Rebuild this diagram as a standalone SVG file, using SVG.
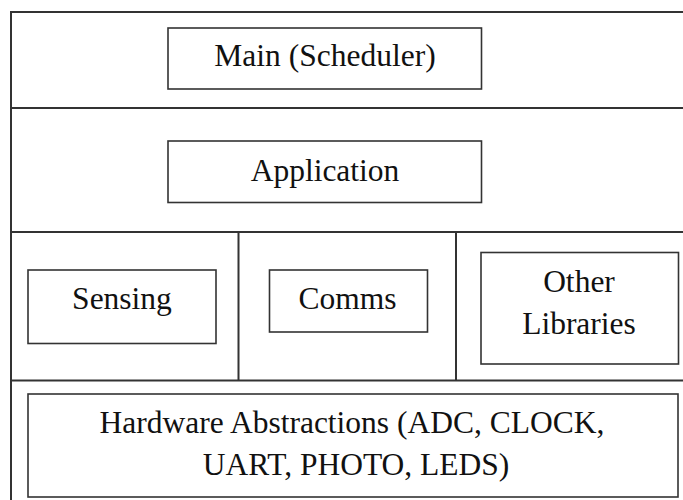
<svg xmlns="http://www.w3.org/2000/svg" width="683" height="500" viewBox="0 0 683 500">
<style>
.frame{fill:none;stroke:#333;stroke-width:2}
.box{fill:#fff;stroke:#333;stroke-width:1.6}
.t{font-family:"Liberation Serif","Times New Roman",serif;font-size:31.5px;fill:#111;text-anchor:middle}
</style>
<rect width="683" height="500" fill="#fff"/>
<g id="layers">
<path class="frame" d="M11,501 V12 H684 M11,108 H684 M11,232 H684 M11,380.5 H684 M238.5,232 V380.5 M456,232 V380.5"/>
</g>
<g id="main">
<rect class="box" x="168" y="28" width="313.5" height="61"/>
<text class="t" x="325" y="66">Main (Scheduler)</text>
</g>
<g id="application">
<rect class="box" x="168" y="141" width="313.5" height="61.5"/>
<text class="t" x="325" y="181">Application</text>
</g>
<g id="sensing">
<rect class="box" x="28" y="270" width="188" height="73.5"/>
<text class="t" x="122" y="308.5">Sensing</text>
</g>
<g id="comms">
<rect class="box" x="269.5" y="270" width="158" height="62"/>
<text class="t" x="347.5" y="309">Comms</text>
</g>
<g id="other">
<rect class="box" x="481" y="252.5" width="197.5" height="111.5"/>
<text class="t" x="579" y="292">Other</text>
<text class="t" x="579" y="334">Libraries</text>
</g>
<g id="hardware">
<rect class="box" x="28" y="394" width="650" height="103"/>
<text class="t" x="352" y="433">Hardware Abstractions (ADC, CLOCK,</text>
<text class="t" x="356" y="475">UART, PHOTO, LEDS)</text>
</g>
<g id="connectors"></g>
</svg>
